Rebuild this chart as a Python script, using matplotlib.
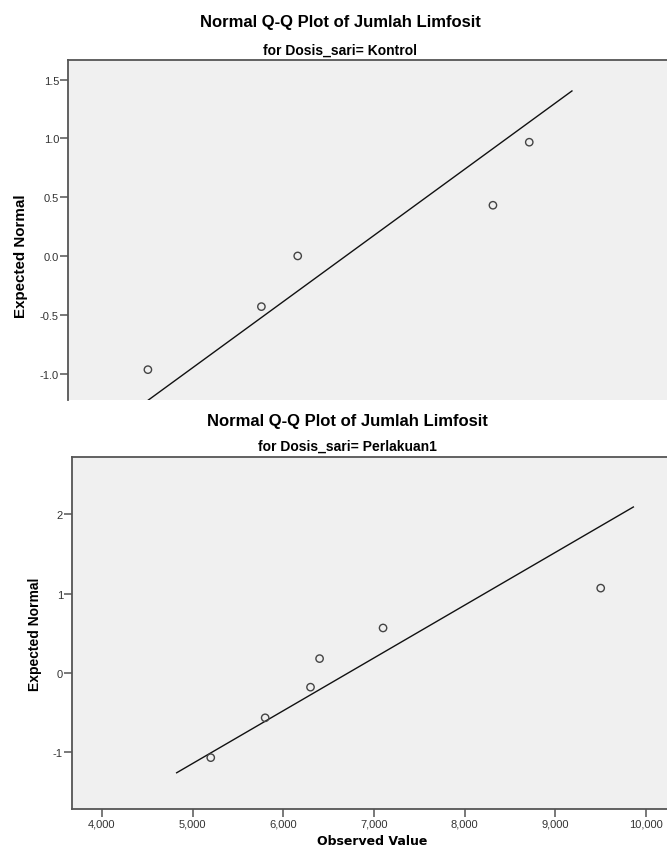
import matplotlib
matplotlib.use("Agg")
import matplotlib.pyplot as plt
from matplotlib.ticker import FuncFormatter
import numpy as np

plt.rcParams["font.family"] = ["Liberation Sans", "DejaVu Sans"]
plt.rcParams["axes.unicode_minus"] = False

# Kontrol group (top chart, cropped at the bottom in the reference)
kontrol_obs = [4550, 5800, 6200, 8350, 8750]
kontrol_exp = [-0.967, -0.431, 0.0, 0.431, 0.967]
kontrol_line_x = [4100, 9220]
kontrol_yticks = [-1.0, -0.5, 0.0, 0.5, 1.0, 1.5]

# Perlakuan1 group (bottom chart)
perlakuan_obs = [5200, 5800, 6300, 6400, 7100, 9500]
perlakuan_exp = [-1.068, -0.566, -0.180, 0.180, 0.566, 1.068]
perlakuan_line_x = [4824, 9860]
perlakuan_yticks = [-1, 0, 1, 2]
xticks = [4000, 5000, 6000, 7000, 8000, 9000, 10000]

TITLE = "Normal Q-Q Plot of Jumlah Limfosit"
BG = "#f0f0f0"
SPINE = "#555555"
W, H = 667, 854


def ref_line(obs, line_x):
    obs = np.asarray(obs, dtype=float)
    lx = np.asarray(line_x, dtype=float)
    return lx, (lx - obs.mean()) / obs.std(ddof=1)


def style(ax):
    ax.set_facecolor(BG)
    for s in ("top", "left", "bottom"):
        ax.spines[s].set_color(SPINE)
        ax.spines[s].set_linewidth(1.3)
    ax.spines["right"].set_visible(False)
    ax.tick_params(axis="both", direction="out", length=6, width=1.1,
                   color=SPINE, labelsize=8, labelcolor="#333333", pad=0.5)


def px_text(x, y, s, **kw):
    fig.text(x / W, 1 - y / H, s, ha="center", va="center", **kw)


fig = plt.figure(figsize=(W / 100, H / 100), dpi=100)

# top chart
ax1 = fig.add_axes([68 / W, 1 - 401 / H, 599 / W, 340 / H])
style(ax1)
ax1.spines["bottom"].set_visible(False)
ax1.tick_params(axis="x", bottom=False, labelbottom=False)
ax1.scatter(kontrol_obs, kontrol_exp, s=28, facecolors="none",
            edgecolors="#444444", linewidths=1.0, zorder=3)
lx, ly = ref_line(kontrol_obs, kontrol_line_x)
ax1.plot(lx, ly, color="#111111", lw=1.0)
ax1.set_xlim(3670, 10267)
ax1.set_ylim(-1.225, 1.666)
ax1.set_yticks(kontrol_yticks)
ax1.yaxis.set_major_formatter(FuncFormatter(lambda v, p: f"{v:.1f}"))

px_text(340, 22, TITLE, fontsize=12, fontweight="bold")
px_text(340, 51, "for Dosis_sari= Kontrol", fontsize=10, fontweight="bold")
px_text(21, 256, "Expected Normal", fontsize=10.9, fontweight="bold", rotation=90)

# bottom chart
ax2 = fig.add_axes([72 / W, 1 - 810 / H, 595 / W, 352 / H])
style(ax2)
ax2.scatter(perlakuan_obs, perlakuan_exp, s=28, facecolors="none",
            edgecolors="#444444", linewidths=1.0, zorder=3)
lx, ly = ref_line(perlakuan_obs, perlakuan_line_x)
ax2.plot(lx, ly, color="#111111", lw=1.0)
ax2.set_xlim(3670, 10231)
ax2.set_ylim(-1.715, 2.72)
ax2.set_yticks(perlakuan_yticks)
ax2.set_xticks(xticks)
ax2.xaxis.set_major_formatter(FuncFormatter(lambda v, p: f"{v:,.0f}"))

px_text(347, 422, TITLE, fontsize=12, fontweight="bold")
px_text(347, 447, "for Dosis_sari= Perlakuan1", fontsize=10, fontweight="bold")
px_text(35, 634, "Expected Normal", fontsize=10, fontweight="bold", rotation=90)
px_text(372, 842, "Observed Value", fontsize=9, fontweight="bold",
        family=["DejaVu Sans"])

fig.savefig("out.png", dpi=100)
